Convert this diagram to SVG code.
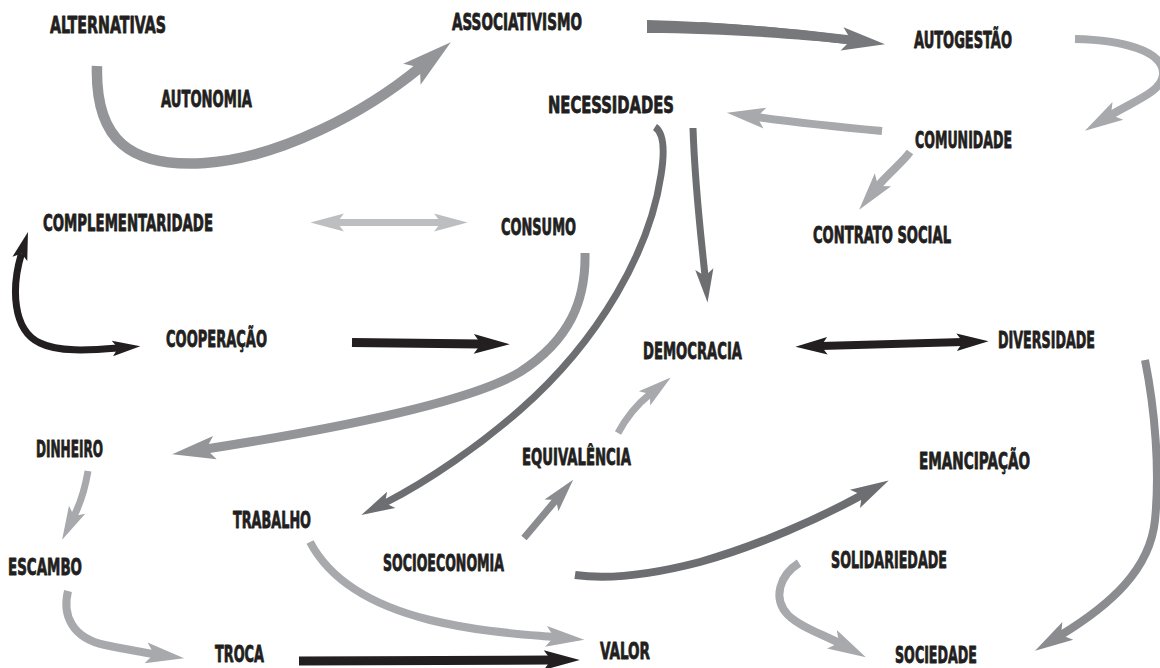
<svg xmlns="http://www.w3.org/2000/svg" width="1160" height="668" viewBox="0 0 1160 668">
<style>
.c{fill:none;stroke-linecap:butt;stroke-linejoin:round}
.k{stroke:#231f20}.d{stroke:#6d6e71}.a{stroke:#77787b}.m{stroke:#939598}.n{stroke:#8b8c8f}.l{stroke:#a7a9ac}.x{stroke:#bcbec0}
.t{font-family:"DejaVu Sans Condensed","DejaVu Sans",sans-serif;font-weight:bold;font-size:22.5px;fill:#231f20;stroke:#231f20;stroke-width:0.8px;stroke-linejoin:round}
</style>
<defs>
<marker id="hk" markerUnits="strokeWidth" orient="auto-start-reverse" refX="0.8" refY="0" markerWidth="5" markerHeight="3" overflow="visible"><path d="M0,-1.1 L4,0 L0,1.1 L0.8,0 Z" fill="#231f20"/></marker>
<marker id="hd" markerUnits="strokeWidth" orient="auto-start-reverse" refX="1" refY="0" markerWidth="5" markerHeight="3" overflow="visible"><path d="M0,-1.3 L4.8,0 L0,1.3 L1,0 Z" fill="#6d6e71"/></marker>
<marker id="ha" markerUnits="strokeWidth" orient="auto-start-reverse" refX="1" refY="0" markerWidth="5" markerHeight="3" overflow="visible"><path d="M0,-1.3 L4.8,0 L0,1.3 L1,0 Z" fill="#77787b"/></marker>
<marker id="hm" markerUnits="strokeWidth" orient="auto-start-reverse" refX="1" refY="0" markerWidth="5" markerHeight="3" overflow="visible"><path d="M0,-1.3 L4.8,0 L0,1.3 L1,0 Z" fill="#939598"/></marker>
<marker id="hn" markerUnits="strokeWidth" orient="auto-start-reverse" refX="1" refY="0" markerWidth="5" markerHeight="3" overflow="visible"><path d="M0,-1.3 L4.8,0 L0,1.3 L1,0 Z" fill="#8b8c8f"/></marker>
<marker id="hl" markerUnits="strokeWidth" orient="auto-start-reverse" refX="1" refY="0" markerWidth="5" markerHeight="3" overflow="visible"><path d="M0,-1.3 L4.8,0 L0,1.3 L1,0 Z" fill="#a7a9ac"/></marker>
<marker id="hx" markerUnits="strokeWidth" orient="auto-start-reverse" refX="1" refY="0" markerWidth="5" markerHeight="3" overflow="visible"><path d="M0,-1.3 L4.8,0 L0,1.3 L1,0 Z" fill="#bcbec0"/></marker>
</defs>
<rect width="1160" height="668" fill="#ffffff"/>
<g id="connectors">
<path class="c m" stroke-width="10.5" marker-end="url(#hm)" d="M97,66 C95,140 130,168 205,163 C280,158 366,112 420,67.5"/>
<path d="M647,20 C720,22 800,29 849,36 L849,44 C800,39 720,33 647,33 Z" fill="#77787b"/>
<path class="c a" stroke-width="9" marker-end="url(#ha)" d="M700,26.5 C760,30 810,35 851,40"/>
<path class="c l" stroke-width="8" marker-end="url(#hl)" d="M1075,39 C1120,40 1165,50 1163,75 C1161,92 1136,100 1111,115"/>
<path class="c l" stroke-width="8" marker-end="url(#hl)" d="M882,131 C850,128 800,123 757,117"/>
<path class="c l" stroke-width="8" marker-end="url(#hl)" d="M910,152 C903,162 887,174.6 878,186"/>
<path class="c d" stroke-width="7" marker-end="url(#hd)" d="M693,128 C695,190 702,245 705,276"/>
<path class="c d" stroke-width="7" marker-end="url(#hd)" d="M655,127 C664,133 665,150 661,175 C650,250 600,340 520,410 C480,445 430,480 385,503"/>
<path class="c x" stroke-width="7" marker-start="url(#hx)" marker-end="url(#hx)" d="M337,222.5 L441,222.5"/>
<path class="c k" stroke-width="7" marker-start="url(#hk)" marker-end="url(#hk)" d="M21.5,253.5 C11.4,287 12,330 40,343 C58,352 88,350.5 118,348"/>
<path class="c k" stroke-width="9" marker-end="url(#hk)" d="M352,342.5 L481,344"/>
<path class="c m" stroke-width="9" marker-end="url(#hm)" d="M585,253 C586,300 570,340 520,372 C470,402 340,428 206,449"/>
<path class="c k" stroke-width="8" marker-start="url(#hk)" marker-end="url(#hk)" d="M821,346 L963,342"/>
<path class="c l" stroke-width="7" marker-end="url(#hl)" d="M618,433 C625,420 635,406 650,394"/>
<path class="c l" stroke-width="7" marker-end="url(#hl)" d="M88,471 C86,483 82,500 74,516"/>
<path class="c n" stroke-width="7" marker-end="url(#hn)" d="M524,538 L556,500"/>
<path class="c d" stroke-width="8" marker-end="url(#hd)" d="M575,575 C610,580 650,575 700,562 C760,545 820,518 862,495"/>
<path class="c l" stroke-width="8" marker-end="url(#hl)" d="M68,591 C62,615 72,638 105,645 C125,649 140,652 154,654"/>
<path class="c l" stroke-width="8" marker-end="url(#hl)" d="M310,542 C330,580 370,605 430,620 C480,632 520,634 554,637"/>
<path class="c k" stroke-width="9" marker-end="url(#hk)" d="M299,661 L551,660"/>
<path class="c l" stroke-width="8" marker-end="url(#hl)" d="M799,563 C780,575 772,598 788,615 C800,627 822,634 839,643"/>
<path class="c n" stroke-width="8" marker-end="url(#hn)" d="M1145,360 C1155,410 1160,470 1155,520 C1150,570 1110,605 1061,635"/>
</g>
<g id="alternativas"><text class="t" x="50" y="33" textLength="116" lengthAdjust="spacingAndGlyphs">ALTERNATIVAS</text></g>
<g id="associativismo"><text class="t" x="452" y="30" textLength="130" lengthAdjust="spacingAndGlyphs">ASSOCIATIVISMO</text></g>
<g id="autogestao"><text class="t" x="914" y="48" textLength="98" lengthAdjust="spacingAndGlyphs">AUTOGESTÃO</text></g>
<g id="autonomia"><text class="t" x="161" y="107" textLength="91" lengthAdjust="spacingAndGlyphs">AUTONOMIA</text></g>
<g id="necessidades"><text class="t" x="548" y="113" textLength="126" lengthAdjust="spacingAndGlyphs">NECESSIDADES</text></g>
<g id="comunidade"><text class="t" x="915" y="148" textLength="97" lengthAdjust="spacingAndGlyphs">COMUNIDADE</text></g>
<g id="complementaridade"><text class="t" x="43" y="231" textLength="170" lengthAdjust="spacingAndGlyphs">COMPLEMENTARIDADE</text></g>
<g id="consumo"><text class="t" x="501" y="235" textLength="75" lengthAdjust="spacingAndGlyphs">CONSUMO</text></g>
<g id="contrato-social"><text class="t" x="813" y="243" textLength="138" lengthAdjust="spacingAndGlyphs">CONTRATO SOCIAL</text></g>
<g id="cooperacao"><text class="t" x="166" y="347" textLength="101" lengthAdjust="spacingAndGlyphs">COOPERAÇÃO</text></g>
<g id="democracia"><text class="t" x="643" y="359" textLength="99" lengthAdjust="spacingAndGlyphs">DEMOCRACIA</text></g>
<g id="diversidade"><text class="t" x="998" y="348" textLength="97" lengthAdjust="spacingAndGlyphs">DIVERSIDADE</text></g>
<g id="dinheiro"><text class="t" x="36" y="457" textLength="67" lengthAdjust="spacingAndGlyphs">DINHEIRO</text></g>
<g id="equivalencia"><text class="t" x="522" y="465" textLength="109" lengthAdjust="spacingAndGlyphs">EQUIVALÊNCIA</text></g>
<g id="emancipacao"><text class="t" x="919" y="469" textLength="111" lengthAdjust="spacingAndGlyphs">EMANCIPAÇÃO</text></g>
<g id="trabalho"><text class="t" x="233" y="528" textLength="78" lengthAdjust="spacingAndGlyphs">TRABALHO</text></g>
<g id="escambo"><text class="t" x="8" y="575" textLength="74" lengthAdjust="spacingAndGlyphs">ESCAMBO</text></g>
<g id="socioeconomia"><text class="t" x="383" y="571" textLength="121" lengthAdjust="spacingAndGlyphs">SOCIOECONOMIA</text></g>
<g id="solidariedade"><text class="t" x="831" y="568" textLength="116" lengthAdjust="spacingAndGlyphs">SOLIDARIEDADE</text></g>
<g id="troca"><text class="t" x="215" y="662" textLength="49" lengthAdjust="spacingAndGlyphs">TROCA</text></g>
<g id="valor"><text class="t" x="600" y="659" textLength="50" lengthAdjust="spacingAndGlyphs">VALOR</text></g>
<g id="sociedade"><text class="t" x="895" y="663" textLength="82" lengthAdjust="spacingAndGlyphs">SOCIEDADE</text></g>
</svg>
